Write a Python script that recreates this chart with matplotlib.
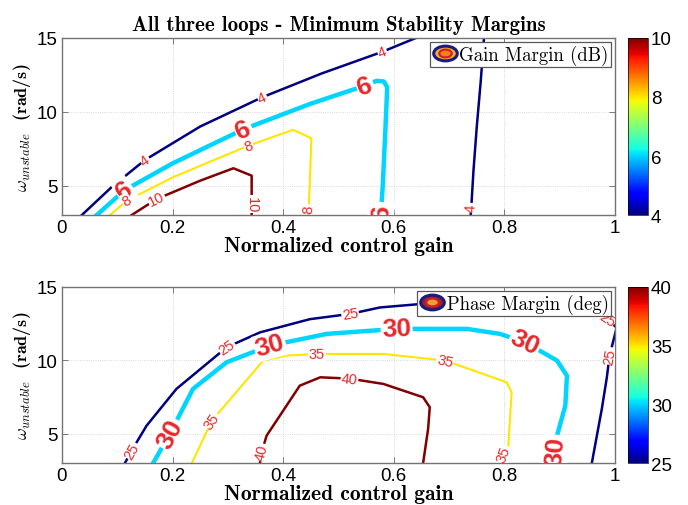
import numpy as np
import matplotlib
matplotlib.use('Agg')
import matplotlib.pyplot as plt
from matplotlib.path import Path
from matplotlib.transforms import Affine2D
from matplotlib.lines import Line2D
from matplotlib.legend_handler import HandlerTuple
from matplotlib.colors import Normalize
from matplotlib.cm import ScalarMappable

plt.rcParams['mathtext.fontset'] = 'cm'

# --- contour lines (x = normalized gain, y = omega) ---
# gain margin (dB)
gm_levels = [4, 4, 6, 8, 10]
gm_x = [
    [0.036, 0.09, 0.150, 0.25, 0.362, 0.47, 0.579, 0.64],
    [0.739, 0.740, 0.744, 0.750, 0.757, 0.763],
    [0.063, 0.113, 0.2, 0.328, 0.45, 0.548, 0.569, 0.582, 0.588, 0.585, 0.580, 0.577, 0.576],
    [0.087, 0.117, 0.2, 0.337, 0.418, 0.451, 0.449, 0.446, 0.445],
    [0.126, 0.171, 0.25, 0.31, 0.343, 0.343, 0.343, 0.343],
]
gm_y = [
    [3.0, 4.9, 6.73, 9.0, 10.98, 12.6, 14.06, 15.0],
    [3.0, 3.5, 6.0, 9.0, 12.0, 15.0],
    [3.0, 4.68, 6.5, 8.81, 10.55, 11.77, 12.1, 12.05, 11.66, 9.0, 5.0, 3.3, 3.0],
    [3.0, 3.97, 5.55, 7.7, 8.78, 8.2, 6.0, 3.4, 3.0],
    [3.0, 4.08, 5.33, 6.17, 5.67, 4.5, 3.75, 3.0],
]
gm_label_idx = [[2, 4, 6], [1], [1, 3, 5, 11], [1, 3, 7], [1, 6]]

# phase margin (deg)
pm_levels = [25, 25, 30, 35, 40]
pm_x = [
    [0.114, 0.126, 0.153, 0.207, 0.298, 0.358, 0.448, 0.521, 0.575, 0.70, 0.85, 0.95, 0.985, 1.01],
    [0.958, 0.976, 0.985, 0.990, 1.0, 1.005],
    [0.165, 0.195, 0.237, 0.298, 0.376, 0.479, 0.605, 0.732, 0.792, 0.837, 0.895, 0.913, 0.910, 0.895, 0.892, 0.891],
    [0.235, 0.271, 0.364, 0.406, 0.461, 0.581, 0.693, 0.804, 0.813, 0.807, 0.798, 0.795],
    [0.358, 0.361, 0.370, 0.430, 0.467, 0.52, 0.581, 0.653, 0.665, 0.662, 0.653],
]
pm_y = [
    [3.0, 3.84, 5.54, 8.05, 10.89, 11.9, 12.8, 13.16, 13.6, 14.0, 14.0, 13.5, 12.8, 12.0],
    [3.0, 6.68, 8.8, 10.3, 11.8, 12.5],
    [3.0, 4.98, 8.05, 9.87, 11.0, 11.8, 12.14, 12.14, 11.8, 11.23, 9.98, 8.95, 6.9, 4.86, 3.84, 3.0],
    [3.0, 5.88, 9.98, 10.32, 10.43, 10.43, 9.98, 8.5, 7.82, 4.18, 3.61, 3.0],
    [3.0, 3.73, 4.86, 8.27, 8.84, 8.75, 8.39, 7.48, 6.8, 5.32, 3.0],
]
pm_label_idx = [[1, 4, 7, 12], [3], [1, 4, 6, 9, 14], [1, 4, 6, 10], [1, 5]]

fig = plt.figure(figsize=(6.88, 5.06), dpi=100)

ellipse = Path.unit_circle().transformed(Affine2D().scale(1.6, 1.0))


def draw_panel(ax, cax, levels, xs, ys, label_idx, vmin, vmax, big_level, legend_text, inner_colors):
    norm = Normalize(vmin, vmax)
    cmap = plt.get_cmap('jet')
    ax.set_xlim(0, 1)
    ax.set_ylim(3, 15)
    widths = {0: 1.8, 1: 3.2, 2: 1.5, 3: 1.8}
    ulev = sorted(set(levels))
    for lev, x, y, idx in zip(levels, xs, ys, label_idx):
        lw = widths[ulev.index(lev)]
        ax.plot(x, y, color=cmap(norm(lev)), lw=lw, solid_joinstyle='round', zorder=2)
        pts = ax.transData.transform(np.column_stack([x, y]))
        for i in idx:
            a = pts[max(i - 1, 0)]
            b = pts[min(i + 1, len(x) - 1)]
            ang = np.degrees(np.arctan2(b[1] - a[1], b[0] - a[0]))
            if ang > 90:
                ang -= 180
            if ang < -90:
                ang += 180
            big = lev == big_level
            ax.text(x[i], y[i], str(lev), color='#e8282c', fontsize=19 if big else 10.5,
                    fontweight='bold' if big else 'normal', family='Liberation Sans',
                    rotation=ang, rotation_mode='anchor', ha='center', va='center',
                    bbox=dict(boxstyle='square,pad=0.05', fc='white', ec='none'),
                    clip_on=True, zorder=3)
    ax.set_xticks([0, 0.2, 0.4, 0.6, 0.8, 1])
    ax.set_xticklabels(['0', '0.2', '0.4', '0.6', '0.8', '1'])
    ax.set_yticks([5, 10, 15])
    ax.tick_params(direction='in', top=True, right=True, length=4, width=0.6,
                   labelsize=13.5, color='0.4', pad=3)
    for lab in ax.get_xticklabels() + ax.get_yticklabels():
        lab.set_family('Liberation Sans')
    for s in ax.spines.values():
        s.set_color('0.45')
        s.set_linewidth(1.0)
    ax.grid(True, linestyle=':', color='0.8', lw=0.6)
    ax.set_xlabel('Normalized control gain', fontname='cmb10', fontsize=15.5, labelpad=0)
    ax.set_ylabel(r'$\omega_{unstable}$  ' + '(rad/s)', fontname='cmb10', fontsize=13, labelpad=3)

    h1 = Line2D([], [], ls='none', marker=ellipse, ms=17, mfc=inner_colors[0],
                mec='#1a1a80', mew=2.2)
    h2 = Line2D([], [], ls='none', marker=ellipse, ms=9, mfc=inner_colors[1],
                mec='#d02020', mew=1.5)
    leg = ax.legend([(h1, h2)], [legend_text], handler_map={tuple: HandlerTuple(ndivide=1)},
                    loc='upper right', prop={'family': 'cmr10', 'size': 13.5},
                    handlelength=1.3, handletextpad=0.1, borderpad=0.15, borderaxespad=0.2,
                    fancybox=False, framealpha=1, edgecolor='0.35')
    leg.get_frame().set_linewidth(0.9)

    sm = ScalarMappable(norm=norm, cmap=cmap)
    cb = fig.colorbar(sm, cax=cax, ticks=np.linspace(vmin, vmax, 4))
    cb.ax.tick_params(length=0, labelsize=13.5, pad=2)
    cb.ax.set_yticklabels([f'{int(v)}' for v in np.linspace(vmin, vmax, 4)])
    for lab in cb.ax.get_yticklabels():
        lab.set_family('Liberation Sans')
    cb.outline.set_linewidth(0.5)


ax1 = fig.add_axes([0.090, 0.573, 0.804, 0.350])
cax1 = fig.add_axes([0.913, 0.573, 0.029, 0.350])
ax2 = fig.add_axes([0.090, 0.083, 0.804, 0.348])
cax2 = fig.add_axes([0.913, 0.083, 0.029, 0.348])

draw_panel(ax1, cax1, gm_levels, gm_x, gm_y, gm_label_idx, 4, 10, 6,
           'Gain Margin (dB)', ['#f0b030', '#f08020'])
draw_panel(ax2, cax2, pm_levels, pm_x, pm_y, pm_label_idx, 25, 40, 30,
           'Phase Margin (deg)', ['#9a2030', '#f0a030'])

ax1.set_title('All three loops - Minimum Stability Margins', fontname='cmb10', fontsize=15, pad=6)

fig.savefig('out.png', dpi=100)
